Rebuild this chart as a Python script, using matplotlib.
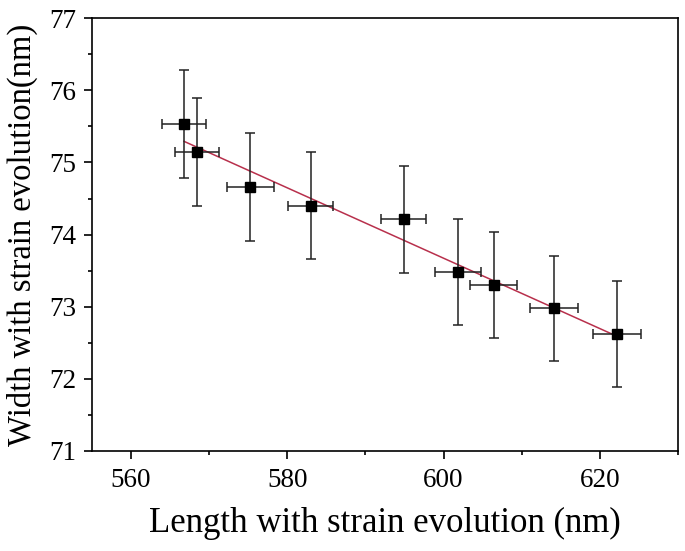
import numpy as np
import matplotlib
matplotlib.use("Agg")
import matplotlib.pyplot as plt
from matplotlib.ticker import MultipleLocator

# Data
length_nm = [566.8, 568.5, 575.3, 583.0, 594.9, 601.8, 606.4, 614.1, 622.2]
width_nm = [75.53, 75.14, 74.66, 74.40, 74.21, 73.48, 73.30, 72.98, 72.62]
length_err = [2.8, 2.8, 2.95, 2.9, 2.9, 2.95, 3.0, 3.05, 3.1]
width_err = [0.75, 0.75, 0.75, 0.74, 0.74, 0.74, 0.74, 0.73, 0.73]
x_ticks = [560, 580, 600, 620]
y_ticks = [71, 72, 73, 74, 75, 76, 77]

plt.rcParams['font.family'] = ['Liberation Serif', 'DejaVu Serif']

fig = plt.figure(figsize=(6.85, 5.51), dpi=100)
ax = fig.add_axes([0.134, 0.1815, 0.856, 0.7855])

x = np.array(length_nm)
y = np.array(width_nm)

ax.errorbar(x, y, xerr=length_err, yerr=width_err, fmt='s', color='black',
            ecolor='#222222', elinewidth=1.1, capsize=3.5, capthick=1.1,
            markersize=7, zorder=3)

slope, intercept = np.polyfit(x, y, 1)
xf = np.array([x.min(), x.max()])
ax.plot(xf, slope * xf + intercept, color='#b8304c', linewidth=1.1, zorder=2)

ax.set_xlim(555, 630)
ax.set_ylim(71, 77)
ax.set_xticks(x_ticks)
ax.set_yticks(y_ticks)
ax.xaxis.set_minor_locator(MultipleLocator(10))
ax.yaxis.set_minor_locator(MultipleLocator(0.5))
ax.tick_params(which='major', direction='out', length=6, width=1.2,
               labelsize=19.5, top=False, right=False)
ax.tick_params(which='minor', direction='out', length=3, width=1.2,
               top=False, right=False)
ax.tick_params(axis='x', pad=6)
ax.tick_params(axis='y', pad=5)
for s in ax.spines.values():
    s.set_linewidth(1.2)

ax.set_xlabel('Length with strain evolution (nm)', fontsize=25, labelpad=10)
ax.set_ylabel('Width with strain evolution(nm)', fontsize=23.5, labelpad=8)

fig.savefig('out.png', dpi=100)
